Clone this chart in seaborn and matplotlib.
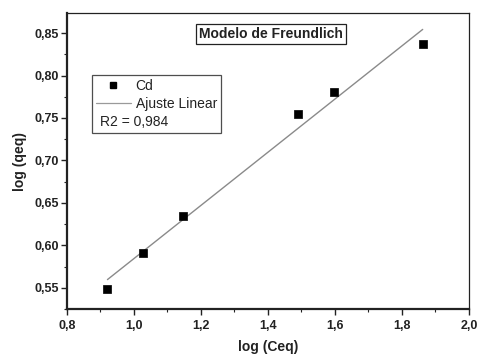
import numpy as np
import pandas as pd
import matplotlib
matplotlib.use("Agg")
import matplotlib.pyplot as plt
from matplotlib.lines import Line2D
from matplotlib.ticker import MultipleLocator
import seaborn as sns

# Freundlich isotherm data for Cd (log-log form)
log_ceq = [0.921, 1.026, 1.148, 1.489, 1.597, 1.862]
log_qeq = [0.549, 0.591, 0.6345, 0.7546, 0.780, 0.837]
r2_label = "R2 = 0,984"

x_ticks = [0.8, 1.0, 1.2, 1.4, 1.6, 1.8, 2.0]
x_tick_labels = ["0,8", "1,0", "1,2", "1,4", "1,6", "1,8", "2,0"]
y_ticks = [0.55, 0.60, 0.65, 0.70, 0.75, 0.80, 0.85]
y_tick_labels = ["0,55", "0,60", "0,65", "0,70", "0,75", "0,80", "0,85"]

df = pd.DataFrame({"log (Ceq)": log_ceq, "log (qeq)": log_qeq})

sns.set_theme(style="white")
plt.rcParams["font.family"] = ["Liberation Sans", "DejaVu Sans"]

fig, ax = plt.subplots(figsize=(4.78, 3.54), dpi=100)
fig.subplots_adjust(left=0.140, right=0.981, top=0.963, bottom=0.127)

ink = "#222222"
line_color = "#8a8a8a"
sns.regplot(data=df, x="log (Ceq)", y="log (qeq)", ax=ax, ci=None,
            scatter=False, line_kws=dict(color=line_color, lw=1.0))
sns.scatterplot(data=df, x="log (Ceq)", y="log (qeq)", ax=ax, marker="s",
                s=32, color="black", edgecolor="black", linewidth=0.5, zorder=3)

ax.set_xlim(0.8, 2.0)
ax.set_ylim(0.525, 0.8735)
ax.set_xticks(x_ticks)
ax.set_xticklabels(x_tick_labels, fontweight="bold", fontsize=9)
ax.set_yticks(y_ticks)
ax.set_yticklabels(y_tick_labels, fontweight="bold", fontsize=9)
ax.xaxis.set_minor_locator(MultipleLocator(0.1))
ax.yaxis.set_minor_locator(MultipleLocator(0.025))
ax.tick_params(which="major", direction="out", length=4, width=1.0,
               bottom=True, left=True, top=False, right=False, colors=ink)
ax.tick_params(axis="x", which="major", pad=4)
ax.tick_params(axis="y", which="major", pad=2)
ax.tick_params(which="minor", direction="out", length=2.5, width=0.8,
               bottom=True, left=True, top=False, right=False, colors=ink)

for side, sp in ax.spines.items():
    sp.set_visible(True)
    sp.set_color(ink)
    sp.set_linewidth(1.6 if side in ("left", "bottom") else 0.9)

ax.set_xlabel("log (Ceq)", fontweight="bold", fontsize=10, labelpad=6, color=ink)
ax.set_ylabel("log (qeq)", fontweight="bold", fontsize=10, labelpad=5, color=ink)

# Title box
ax.text(0.5075, 0.930, "Modelo de Freundlich", transform=ax.transAxes,
        ha="center", va="center", fontsize=10, fontweight="bold", color=ink,
        bbox=dict(boxstyle="square,pad=0.22", fc="white", ec=ink, lw=0.9))

# Legend with an extra text-only row
fs = 10
handles = [
    Line2D([], [], marker="s", ls="none", color="black", markersize=5),
    Line2D([], [], color="#9a9a9a", lw=0.9),
    Line2D([], [], ls="none", marker=None),
]
labels = ["Cd", "Ajuste Linear", r2_label]
hl, htp = 2.5, 0.35
leg = ax.legend(handles, labels, loc="upper left", bbox_to_anchor=(0.062, 0.792),
                fontsize=fs, frameon=True, fancybox=False, handlelength=hl,
                handletextpad=htp, labelspacing=0.3, borderpad=0.3,
                borderaxespad=0.0)
leg.get_frame().set_edgecolor(ink)
leg.get_frame().set_linewidth(0.9)
for t in leg.get_texts():
    t.set_color(ink)
shift = (hl + htp) * fs * fig.dpi / 72.0 - 4
leg.get_texts()[2].set_x(-shift)

fig.savefig("out.png", dpi=100)
